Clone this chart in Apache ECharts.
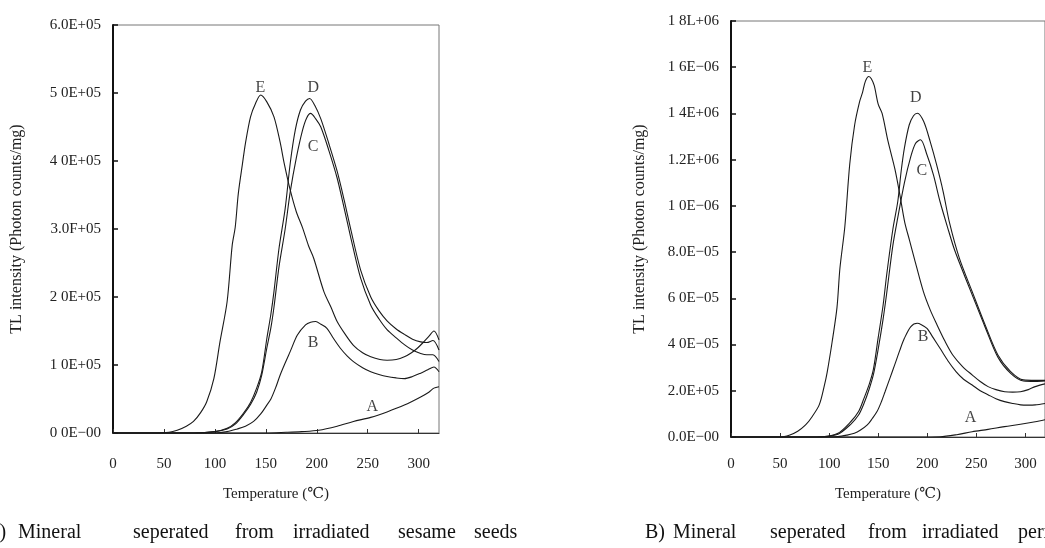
<!DOCTYPE html>
<html>
<head>
<meta charset="utf-8">
<script src="https://cdn.jsdelivr.net/npm/echarts@6/dist/echarts.min.js"></script>
<style>
html,body{margin:0;padding:0;background:#fff;}
#chart{width:1045px;height:548px;}
</style>
</head>
<body>
<div id="chart"></div>
<script>
// ---- DATA (temperature in deg C, intensity in units of 1E+05 photon counts/mg) ----
var xTicks = ['0','50','100','150','200','250','300'];
var leftYTickLabels = ['0 0E−00','1 0E+05','2 0E+05','3.0F+05','4 0E+05','5 0E+05','6.0E+05'];
var rightYTickLabels = ['0.0E−00','2.0E+05','4 0E−05','6 0E−05','8.0E−05','1 0E−06','1.2E+06','1 4E+06','1 6E−06','1 8L+06'];

var sesameE = [[0,0],[40,0],[55,0.01],[63,0.04],[72,0.1],[79,0.17],[86,0.3],[92,0.46],[99,0.8],[105,1.34],[112,1.93],[117,2.76],[120,3.03],[123,3.52],[127,3.95],[130,4.26],[135,4.65],[140,4.85],[145,4.97],[151,4.87],[158,4.65],[164,4.28],[168,3.97],[174,3.57],[180,3.25],[186,3.02],[192,2.75],[197,2.57],[207,2.08],[214,1.85],[220,1.64],[228,1.45],[236,1.29],[245,1.18],[253,1.12],[262,1.08],[269,1.07],[278,1.08],[286,1.12],[293,1.18],[299,1.25],[305,1.34],[310,1.42],[315,1.5],[320,1.37]];
var sesameD = [[0,0],[80,0],[100,0.02],[112,0.07],[120,0.15],[128,0.29],[135,0.45],[141,0.66],[146,0.9],[151,1.39],[155,1.75],[158,2.08],[163,2.72],[169,3.3],[174,3.97],[179,4.46],[184,4.75],[189,4.88],[193,4.92],[198,4.82],[204,4.62],[212,4.25],[220,3.85],[227,3.42],[233,3.02],[243,2.4],[253,2.0],[261,1.8],[269,1.65],[278,1.53],[286,1.45],[294,1.38],[302,1.34],[308,1.33],[314,1.36],[320,1.22]];
var sesameC = [[0,0],[80,0],[100,0.02],[112,0.06],[120,0.13],[128,0.27],[135,0.42],[141,0.6],[146,0.85],[151,1.25],[155,1.55],[158,1.85],[163,2.45],[169,3.0],[174,3.55],[180,4.05],[186,4.45],[190,4.63],[194,4.7],[199,4.62],[204,4.5],[212,4.15],[220,3.75],[227,3.3],[233,2.9],[243,2.28],[253,1.88],[261,1.68],[269,1.52],[278,1.4],[286,1.3],[294,1.22],[302,1.17],[308,1.15],[314,1.15],[320,1.05]];
var sesameB = [[0,0],[100,0],[112,0.02],[122,0.06],[130,0.1],[138,0.17],[145,0.28],[151,0.41],[155,0.5],[160,0.68],[164,0.85],[169,1.03],[174,1.2],[181,1.44],[189,1.59],[194,1.63],[199,1.64],[204,1.6],[210,1.54],[216,1.4],[223,1.25],[230,1.13],[236,1.05],[245,0.96],[253,0.9],[261,0.86],[269,0.83],[278,0.81],[286,0.8],[294,0.83],[302,0.88],[309,0.93],[315,0.97],[320,0.9]];
var sesameA = [[0,0],[150,0],[170,0.01],[185,0.02],[202,0.04],[220,0.1],[236,0.17],[253,0.23],[269,0.31],[286,0.41],[302,0.53],[310,0.6],[315,0.66],[320,0.68]];

var perillaE = [[0,0],[50,0],[60,0.09],[68,0.25],[76,0.52],[83,0.9],[90,1.4],[95,2.2],[98,2.8],[103,4.1],[108,5.6],[111,7.3],[116,9.1],[121,11.8],[126,13.5],[131,14.5],[134,14.9],[137,15.4],[140.5,15.6],[143,15.5],[146,15.2],[150,14.4],[154,14.0],[160,12.8],[167,11.6],[172,10.5],[177,9.3],[182,8.5],[187,7.7],[196,6.3],[203,5.5],[210,4.85],[218,4.15],[226,3.55],[236,3.05],[246,2.68],[254,2.4],[262,2.18],[270,2.05],[279,1.96],[287,1.94],[295,1.96],[303,2.05],[310,2.18],[320,2.3]];
var perillaD = [[0,0],[80,0],[93,0.01],[109,0.16],[122,0.66],[130,1.1],[135.5,1.67],[141,2.3],[145,2.9],[150,4.3],[155,5.7],[158.6,7.0],[165,9.0],[170,10.2],[173.4,11.5],[176.7,12.5],[181.6,13.5],[186,13.9],[190,14.01],[196.4,13.65],[203,12.78],[209.6,11.77],[216.2,10.62],[222.8,9.25],[232.7,7.74],[245.8,6.29],[259,4.85],[272,3.55],[285,2.83],[298,2.47],[310,2.45],[320,2.45]];
var perillaC = [[0,0],[80,0],[93,0.01],[109,0.12],[122,0.55],[130,0.95],[135.5,1.45],[141,2.1],[145.4,2.75],[150.4,3.9],[155,5.1],[158.6,6.2],[165,8.3],[170,9.5],[176.7,11.0],[183,12.1],[188,12.7],[193.2,12.86],[199.7,12.21],[206.3,11.34],[213,10.19],[221,9.03],[227,8.2],[232.7,7.55],[245.8,6.15],[259,4.75],[272,3.45],[285,2.75],[298,2.42],[310,2.4],[320,2.42]];
var perillaB = [[0,0],[90,0],[109,0.02],[118,0.08],[125.7,0.16],[132,0.3],[138.9,0.52],[144,0.8],[148.8,1.1],[153,1.5],[157,1.96],[162,2.55],[166.8,3.12],[172,3.75],[176.7,4.27],[183.3,4.78],[189.8,4.92],[194,4.86],[199.7,4.7],[206,4.3],[213,3.84],[221,3.3],[229.3,2.83],[237,2.5],[245.8,2.25],[254,2.0],[262.3,1.82],[270,1.66],[278.7,1.53],[287,1.45],[295.2,1.39],[303,1.38],[310,1.39],[320,1.45]];
var perillaA = [[0,0],[170,0],[190,0],[213,0.01],[230,0.1],[245.8,0.23],[262,0.33],[278.7,0.45],[295,0.55],[310,0.66],[320,0.75]];

// curve letter annotations (data coordinates)
var sesameLetters = [['E',144.7,5.07],['D',196.5,5.07],['C',196.5,4.21],['B',196.5,1.32],['A',254.5,0.39]];
var perillaLetters = [['E',138.9,15.96],['D',188.3,14.66],['C',194.5,11.5],['B',195.8,4.34],['A',244,0.82]];

var captionA = ['A)','Mineral','seperated','from','irradiated','sesame','seeds'];
var captionB = ['B)','Mineral','seperated','from','irradiated','perilla','seeds'];

// ---- CHART ----
var FONT = '"Liberation Serif", "DejaVu Serif", serif';
var chart = echarts.init(document.getElementById('chart'), null, {renderer:'canvas'});

function xAxisCfg(gi, labelMargin, nameGap){
  return {
    gridIndex: gi, type:'value', min:0, max:320, interval:50,
    name:'Temperature (℃)', nameLocation:'middle', nameGap:nameGap,
    nameTextStyle:{fontFamily:FONT, fontSize:15, color:'#222'},
    axisLine:{show:true, lineStyle:{color:'#333', width:1.2}},
    axisTick:{show:true, inside:true, length:4, lineStyle:{color:'#333'}},
    axisLabel:{show:true, margin:labelMargin, fontFamily:FONT, fontSize:15, color:'#222', showMaxLabel:false,
      formatter:function(v){ var i = Math.round(v/50); return (v%50===0 && xTicks[i]!==undefined) ? xTicks[i] : ''; }},
    splitLine:{show:false}
  };
}
function yAxisCfg(gi, max, labels, gap){
  return {
    gridIndex: gi, type:'value', min:0, max:max, interval:(gi===0?1:2),
    name:'TL intensity (Photon counts/mg)', nameLocation:'middle', nameGap:gap, nameRotate:90,
    nameTextStyle:{fontFamily:FONT, fontSize:16, color:'#222'},
    axisLine:{show:true, lineStyle:{color:'#111', width:2}},
    axisTick:{show:true, inside:true, length:5, lineStyle:{color:'#111', width:1.5}},
    axisLabel:{show:true, margin:12, fontFamily:FONT, fontSize:15, color:'#222',
      formatter:function(v){ var i = Math.round(v/(gi===0?1:2)); return labels[i]; }},
    splitLine:{show:false}
  };
}
function lineSeries(gi, data){
  return {type:'line', xAxisIndex:gi, yAxisIndex:gi, data:data, showSymbol:false, smooth:0.3,
    lineStyle:{color:'#1a1a1a', width:1.1}, silent:true, z:3};
}
function letterSeries(gi, letters){
  return {type:'scatter', xAxisIndex:gi, yAxisIndex:gi, symbol:'circle', symbolSize:2,
    itemStyle:{color:'rgba(0,0,0,0)'}, silent:true, z:5,
    data: letters.map(function(l){ return {name:l[0], value:[l[1], l[2]]}; }),
    label:{show:true, position:'inside', formatter:'{b}', fontFamily:FONT, fontSize:16, color:'#111'}};
}
function captionEls(words, xs){
  return words.map(function(w, i){
    return {type:'text', x:xs[i], y:533, style:{text:w, font:'20px '+FONT, fill:'#111', textVerticalAlign:'middle'}};
  });
}

var option = {
  animation:false,
  backgroundColor:'#fff',
  grid:[
    {left:113, top:25, width:326, height:408, show:true, borderColor:'#777', borderWidth:1, containLabel:false},
    {left:731, top:21, width:324, height:416, show:true, borderColor:'#777', borderWidth:1, containLabel:false}
  ],
  xAxis:[xAxisCfg(0, 24, 54), xAxisCfg(1, 20, 50)],
  yAxis:[yAxisCfg(0, 6, leftYTickLabels, 88), yAxisCfg(1, 18, rightYTickLabels, 83)],
  series:[
    lineSeries(0, sesameA), lineSeries(0, sesameB), lineSeries(0, sesameC), lineSeries(0, sesameD), lineSeries(0, sesameE),
    letterSeries(0, sesameLetters),
    lineSeries(1, perillaA), lineSeries(1, perillaB), lineSeries(1, perillaC), lineSeries(1, perillaD), lineSeries(1, perillaE),
    letterSeries(1, perillaLetters)
  ],
  graphic: captionEls(captionA, [-15,18,133,235,293,398,474]).concat(
           captionEls(captionB, [645,673,770,868,922,1018,1100]))
};
chart.setOption(option);
</script>
</body>
</html>
